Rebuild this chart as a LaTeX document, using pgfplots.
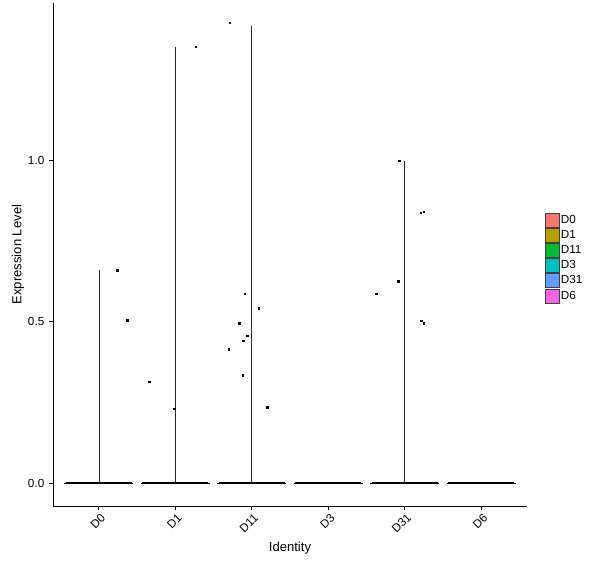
\documentclass[border=0pt]{standalone}
\usepackage{pgfplots}
\pgfplotsset{compat=1.18}
\usepackage{fontspec}
\setmainfont{Liberation Sans}
\definecolor{cD0}{HTML}{F8766D}
\definecolor{cD1}{HTML}{B79F00}
\definecolor{cD11}{HTML}{00BA38}
\definecolor{cD3}{HTML}{00BFC4}
\definecolor{cD31}{HTML}{619CFF}
\definecolor{cD6}{HTML}{F564E3}
\begin{document}
\begin{tikzpicture}
\useasboundingbox (-39.75pt,-46.5pt) rectangle (410.25pt,379.5pt);
\begin{axis}[
scale only axis,
width=355.5pt, height=377.25pt,
xmin=0.4, xmax=6.6,
ymin=-0.0714, ymax=1.49,
axis lines=left,
axis line style={-, line width=0.7pt},
every tick/.style={black, line width=0.7pt},
tick align=outside,
major tick length=3pt,
xtick={1,2,3,4,5,6},
xticklabels={D0,D1,D11,D3,D31,D6},
ytick={0,0.5,1},
yticklabels={0.0,0.5,1.0},
tick label style={font=\fontsize{8.8}{9}\selectfont},
xticklabel style={rotate=45, anchor=north east, inner sep=0.5pt, yshift=-1.5pt},
xlabel={Identity},
ylabel={Expression Level},
label style={font=\fontsize{9.8}{10}\selectfont},
xlabel style={yshift=-2pt},
ylabel style={yshift=-4pt},
legend style={draw=none, at={(1.03,0.493)}, anchor=west,
  font=\fontsize{8.8}{9}\selectfont, row sep=0.4pt,
  nodes={inner sep=0.9pt}},
legend cell align=left,
legend image code/.code={\draw[#1, draw=black!75, line width=0.6pt] (0pt,-5.2pt) rectangle (10pt,5.2pt);},
]
\addlegendimage{fill=cD0}\addlegendentry{D0}
\addlegendimage{fill=cD1}\addlegendentry{D1}
\addlegendimage{fill=cD11}\addlegendentry{D11}
\addlegendimage{fill=cD3}\addlegendentry{D3}
\addlegendimage{fill=cD31}\addlegendentry{D31}
\addlegendimage{fill=cD6}\addlegendentry{D6}
% violins: flat bodies at zero
\addplot[forget plot, black, line width=0.6pt] coordinates {(0.55,0) (1.45,0)};
\addplot[forget plot, black, line width=2.2pt] coordinates {(0.57,0) (1.43,0)};
\addplot[forget plot, black, line width=0.6pt] coordinates {(1.55,0) (2.45,0)};
\addplot[forget plot, black, line width=2.2pt] coordinates {(1.57,0) (2.43,0)};
\addplot[forget plot, black, line width=0.6pt] coordinates {(2.55,0) (3.45,0)};
\addplot[forget plot, black, line width=2.2pt] coordinates {(2.57,0) (3.43,0)};
\addplot[forget plot, black, line width=0.6pt] coordinates {(3.55,0) (4.45,0)};
\addplot[forget plot, black, line width=2.2pt] coordinates {(3.57,0) (4.43,0)};
\addplot[forget plot, black, line width=0.6pt] coordinates {(4.55,0) (5.45,0)};
\addplot[forget plot, black, line width=2.2pt] coordinates {(4.57,0) (5.43,0)};
\addplot[forget plot, black, line width=0.6pt] coordinates {(5.55,0) (6.45,0)};
\addplot[forget plot, black, line width=2.2pt] coordinates {(5.57,0) (6.43,0)};
% violin spikes
\addplot[forget plot, black!85, line width=0.5pt] coordinates {(1,0) (1,0.661)};
\addplot[forget plot, black!85, line width=0.5pt] coordinates {(2,0) (2,1.354)};
\addplot[forget plot, black!85, line width=0.5pt] coordinates {(3,0) (3,1.419)};
\addplot[forget plot, black!85, line width=0.5pt] coordinates {(5,0) (5,1.0)};
% jittered non-zero cells
\addplot[forget plot, only marks, mark=square*, mark size=0.6pt, black] coordinates {
(1.24,0.661) (1.37,0.506)
(1.66,0.314) (1.99,0.230) (2.27,1.354)
(2.71,1.429) (2.91,0.587) (2.84,0.495) (2.94,0.457) (2.89,0.441) (2.70,0.416) (2.88,0.335) (3.09,0.543) (3.20,0.236)
(4.63,0.587) (4.92,0.627) (4.93,1.0) (5.21,0.839) (5.25,0.842) (5.22,0.504) (5.25,0.495)
};
\end{axis}
\end{tikzpicture}
\end{document}
